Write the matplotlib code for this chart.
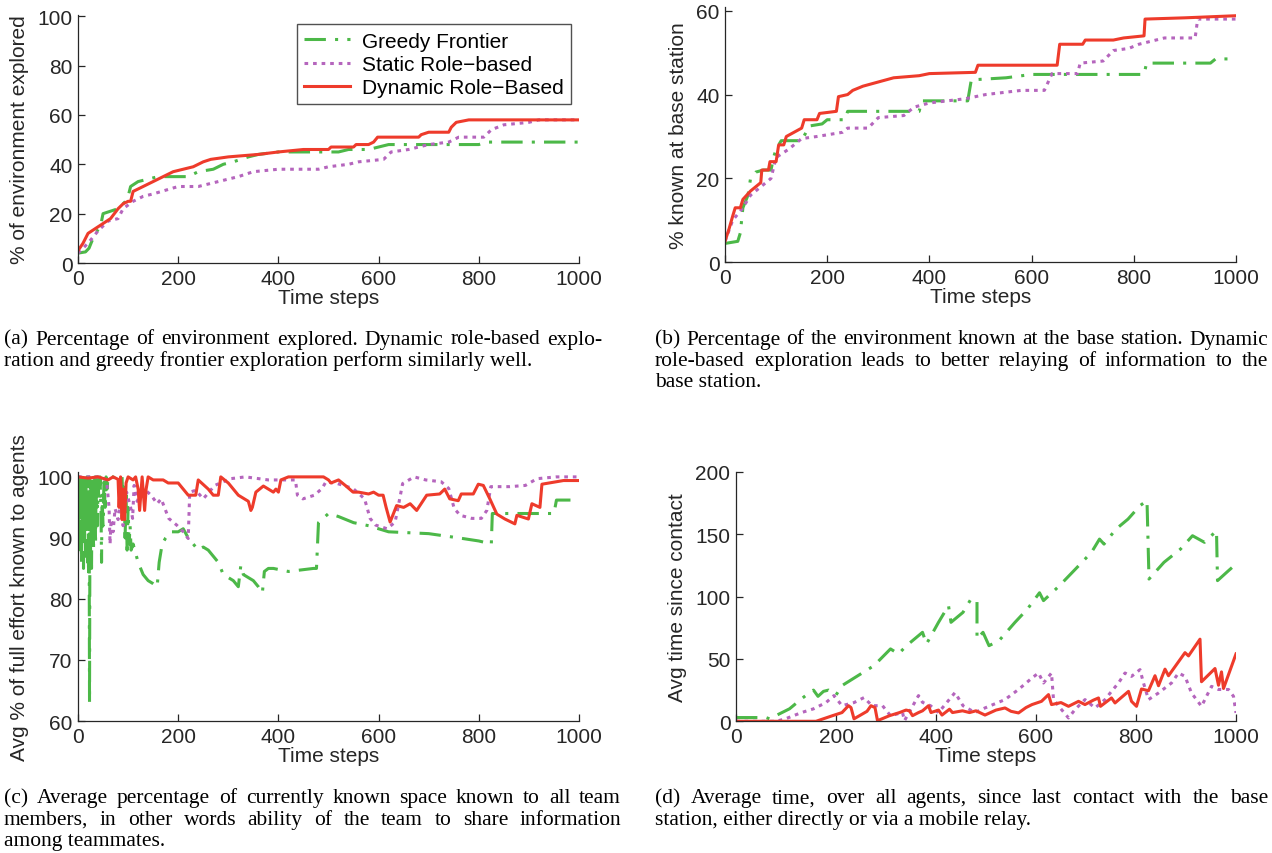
import matplotlib
matplotlib.use('Agg')
import matplotlib.pyplot as plt

plt.rcParams['font.family'] = ['Liberation Sans', 'DejaVu Sans']

W, H = 1272, 854

GREEN = '#4cb848'
PURPLE = '#b565bd'
RED = '#ee3b2b'
INK = '#262626'

# ---- data ----
steps_ticks = [0, 200, 400, 600, 800, 1000]

# (a) % of environment explored
a_x_greedy = [0, 15, 22, 28, 35, 45, 50, 65, 80, 95,
              100, 105, 120, 140, 160, 220, 240, 270, 290, 310,
              340, 360, 400, 520, 540, 580, 600, 620, 800, 815,
              1000]
a_y_greedy = [4, 4.5, 6, 9, 12, 15, 20, 21, 22, 25,
              27, 31, 33, 34, 35, 35, 37, 38, 40, 41,
              43, 44, 45, 45, 46, 46, 47, 48, 48, 49,
              49]
a_x_static = [0, 20, 40, 60, 80, 90, 110, 130, 150, 200,
              240, 280, 320, 350, 400, 480, 500, 540, 560, 610,
              625, 660, 700, 740, 760, 810, 825, 850, 900, 920,
              1000]
a_y_static = [4, 8, 13, 17, 18, 22, 25, 27, 28, 31,
              31, 33, 35, 37, 38, 38, 39, 40, 41, 42,
              45, 46, 48, 49, 51, 51, 54, 56, 57, 58,
              58]
a_x_dynamic = [0, 10, 20, 35, 50, 65, 80, 90, 100, 105,
               110, 130, 150, 170, 190, 210, 230, 250, 265, 300,
               360, 400, 450, 500, 505, 550, 555, 580, 590, 598,
               680, 685, 700, 740, 745, 755, 780, 1000]
a_y_dynamic = [5, 8, 12, 14, 16, 18, 22, 24, 25, 25,
               29, 31, 33, 35, 37, 38, 39, 41, 42, 43,
               44, 45, 46, 46, 47, 47, 48, 48, 49, 51,
               51, 52, 53, 53, 55, 57, 58, 58]

# (b) % known at base station
b_x_greedy = [0, 25, 30, 35, 45, 50, 60, 75, 90, 95,
              100, 110, 150, 165, 190, 200, 235, 240, 380, 385,
              475, 482, 550, 600, 820, 825, 950, 960, 1000]
b_y_greedy = [4.5, 5, 7, 13, 16, 20, 21.5, 22, 22, 25,
              27, 29, 29, 32.5, 33, 34, 34, 36, 36, 38.5,
              38.5, 43.5, 44, 44.8, 44.8, 47.5, 47.5, 48.5, 48.5]
b_x_static = [0, 15, 35, 50, 70, 90, 100, 125, 150, 180,
              230, 240, 280, 300, 350, 370, 400, 470, 510, 580,
              625, 640, 690, 695, 740, 760, 790, 810, 860, 920,
              925, 1000]
b_y_static = [5, 10, 13, 16, 18, 20, 25, 27, 29.5, 30,
              31, 32, 32, 34.5, 35, 37, 38, 39, 40, 41,
              41, 45, 45, 47.5, 48, 50.5, 51, 52, 53.5, 53.5,
              58, 58]
b_x_dynamic = [0, 8, 15, 20, 30, 35, 50, 70, 72, 85,
               88, 100, 105, 115, 120, 135, 150, 155, 180, 185,
               218, 222, 240, 250, 270, 300, 330, 380, 400, 490,
               495, 650, 655, 700, 705, 760, 780, 820, 822, 900,
               1000]
b_y_dynamic = [5, 8, 11, 13, 13, 15, 17, 19, 22, 22,
               24, 24, 28, 28, 30, 31, 32, 34, 34, 35.5,
               36, 39.5, 40, 41, 42, 43, 44, 44.5, 45, 45.3,
               47, 47, 52, 52, 53, 53, 53.5, 54, 58, 58.3,
               58.8]

# (c) Avg % of full effort known to agents
c_x_greedy = [0, 1, 2, 3, 4, 5, 6, 7, 8, 9,
              10, 11, 12, 13, 14, 15, 16, 17, 18, 19,
              20, 21, 22, 23, 24, 25, 26, 27, 28, 29,
              30, 31, 32, 33, 34, 35, 36, 37, 38, 39,
              40, 42, 44, 46, 47, 48, 50, 52, 54, 56,
              58, 60, 70, 80, 88, 90, 92, 94, 96, 98,
              100, 102, 104, 106, 110, 120, 130, 140, 150, 158,
              162, 168, 175, 185, 200, 210, 220, 230, 240, 250,
              260, 270, 280, 290, 300, 310, 320, 325, 330, 340,
              350, 360, 368, 372, 380, 390, 420, 440, 470, 476,
              480, 500, 520, 550, 580, 600, 620, 700, 760, 800,
              825, 827, 950, 955, 1000]
c_y_greedy = [100, 93, 100, 90, 99, 88, 100, 86, 98, 91,
              100, 85, 97, 89, 100, 87, 99, 92, 100, 86,
              98, 84, 100, 63, 99, 88, 100, 85, 97, 91,
              100, 88, 99, 93, 100, 89, 98, 95, 100, 92,
              99, 96, 100, 94, 86, 97, 92, 100, 95, 100,
              98, 100, 100, 99.5, 100, 93, 99, 90, 97, 88,
              95, 89, 92, 88, 89, 86, 84, 83, 82.5, 82,
              86, 89, 90, 91, 91, 91.5, 90, 89, 88, 88.5,
              88, 87, 86, 84, 83.5, 83, 82, 85.5, 84, 83.5,
              83, 82, 81, 84.5, 85, 85, 84.5, 84.7, 85, 85,
              92.5, 94, 93.5, 92.5, 92, 91.5, 91, 90.7, 90, 89.5,
              89, 94, 94, 96.2, 96.2]
c_x_static = [0, 40, 57, 62, 64, 66, 70, 74, 80, 85,
              90, 97, 105, 109, 112, 118, 124, 135, 146, 158,
              166, 181, 197, 210, 220, 223, 235, 250, 273, 304,
              334, 380, 411, 434, 438, 449, 472, 487, 495, 518,
              549, 572, 583, 594, 617, 633, 648, 671, 694, 725,
              740, 751, 763, 786, 805, 816, 824, 862, 893, 916,
              954, 1000]
c_y_static = [100, 100, 99.5, 95, 89, 93, 91, 94.8, 93, 96,
              92, 97.5, 95, 93.2, 98.6, 96, 97, 97.8, 97, 95.6,
              96.4, 93.2, 92.1, 91, 89.9, 97.5, 97.8, 96.4, 98.6, 99.7,
              100, 99.5, 99.5, 99.5, 97, 96.4, 97, 98.1, 99.2, 98.9,
              98.1, 96.4, 93.2, 92.1, 91.5, 92.6, 98.9, 100, 99.5, 99.2,
              98.1, 94.8, 93.7, 93.2, 93.2, 94.5, 98.4, 98.4, 98.6, 99.7,
              100, 100]
c_x_dynamic = [0, 20, 40, 60, 70, 80, 82, 85, 88, 90,
               93, 96, 100, 110, 115, 120, 123, 128, 133, 136,
               140, 150, 170, 180, 200, 210, 220, 235, 240, 260,
               270, 280, 285, 300, 320, 340, 345, 348, 355, 370,
               390, 395, 400, 405, 420, 490, 500, 505, 520, 535,
               549, 560, 580, 590, 600, 609, 615, 623, 636, 650,
               663, 676, 696, 722, 732, 742, 759, 765, 789, 799,
               809, 822, 836, 852, 872, 876, 899, 906, 922, 926,
               969, 1000]
c_y_dynamic = [100, 99.8, 100, 99.5, 100, 99.6, 95, 100, 93, 98,
               93, 99, 100, 99.5, 100, 98, 94.5, 100, 94.5, 98,
               100, 99.5, 99.5, 99, 99, 98, 97, 97, 99.5, 98,
               97, 97, 100, 99, 97, 96, 94.5, 95, 97.5, 98.5,
               97.5, 98, 97.5, 99.5, 100, 100, 99.5, 99, 99.5, 98.5,
               97.5, 97.5, 97.2, 97.5, 97, 97, 95, 92.6, 95.3, 95,
               95.6, 94.5, 97, 97.2, 98, 96.4, 96.1, 97.2, 97.2, 98.8,
               98.6, 96.4, 93.9, 93.1, 92.3, 93.7, 93.1, 95.6, 95, 98.8,
               99.4, 99.4]

# (d) Avg time since contact
d_x_greedy = [0, 60, 67, 87, 107, 131, 147, 155, 164, 175,
              185, 200, 212, 244, 276, 309, 325, 341, 373, 381,
              405, 425, 430, 454, 470, 482, 482, 494, 506, 526,
              558, 583, 607, 615, 647, 679, 711, 727, 736, 760,
              784, 808, 822, 826, 856, 889, 913, 937, 961, 963,
              985, 1000]
d_y_greedy = [3, 3, 2, 6, 10, 18, 23, 25, 20, 24,
              25, 21, 28.6, 36.6, 44.6, 58, 54, 60.6, 71.3, 62,
              79.3, 92.7, 79.3, 87.3, 98, 96.7, 66, 71.3, 60.6, 64.6,
              79.3, 90, 103, 96.7, 108.7, 122, 135.4, 146, 142, 154,
              162, 172.8, 176.8, 114, 127.4, 138, 148.7, 143.4, 152.7, 112.7,
              120.7, 126]
d_x_static = [0, 80, 99, 131, 155, 180, 196, 212, 236, 256,
              272, 293, 309, 333, 337, 365, 373, 389, 405, 438,
              454, 478, 498, 538, 565, 592, 605, 615, 631, 635,
              651, 665, 678, 698, 718, 738, 751, 765, 778, 791,
              808, 815, 825, 845, 871, 885, 898, 911, 931, 951,
              965, 985, 995, 1000]
d_y_static = [0, 0, 2, 7, 10, 15, 20.6, 12.5, 15, 19,
              12.5, 12.5, 4.5, 7, 0.5, 20.6, 15.2, 12.5, 7, 23,
              12.5, 7, 10.7, 17.4, 25.5, 34.7, 38.7, 30.7, 38.7, 17.4,
              9.4, 2.7, 9.4, 17.4, 10.7, 17.4, 24, 30.7, 38.7, 36,
              41.4, 30.7, 17.4, 22.7, 30.7, 38.7, 36, 22.7, 12, 28,
              25.5, 25.5, 20, 6.7]
d_x_dynamic = [0, 160, 193, 212, 225, 230, 236, 247, 262, 270,
               278, 283, 307, 327, 340, 347, 353, 365, 373, 385,
               390, 405, 412, 427, 433, 453, 467, 480, 498, 520,
               538, 550, 565, 580, 592, 611, 625, 631, 650, 665,
               685, 698, 715, 725, 729, 751, 758, 785, 791, 801,
               811, 825, 838, 845, 858, 865, 898, 905, 928, 931,
               958, 965, 971, 975, 1000]
d_y_dynamic = [0, 0, 4.5, 7, 12.5, 11, 2, 4.5, 8, 12.5,
               11, 0.5, 4.5, 7, 9, 8.4, 4.5, 7, 8.4, 12.5,
               7, 9, 5, 9.7, 7, 8.4, 7, 8.4, 5, 9,
               10.7, 8, 6.7, 11, 13.4, 16, 21.4, 13.4, 15, 12,
               16, 13.4, 17, 18.7, 12, 18.7, 14.7, 24, 16, 12,
               25.9, 24.5, 36.5, 28.5, 41.8, 36.5, 55, 52.4, 65.8, 31.7,
               42.3, 28.9, 39.6, 26.3, 54]

labels = ['Greedy Frontier', 'Static Role\u2212based', 'Dynamic Role\u2212Based']

captions = {
    'a': ['(a) Percentage of environment explored. Dynamic role-based explo-',
          'ration and greedy frontier exploration perform similarly well.'],
    'b': ['(b) Percentage of the environment known at the base station. Dynamic',
          'role-based exploration leads to better relaying of information to the',
          'base station.'],
    'c': ['(c) Average percentage of currently known space known to all team',
          'members, in other words ability of the team to share information',
          'among teammates.'],
    'd': ['(d) Average time, over all agents, since last contact with the base',
          'station, either directly or via a mobile relay.'],
}

fig = plt.figure(figsize=(W / 100, H / 100), dpi=100)


def px_axes(x0, x1, ytop, ybot):
    return fig.add_axes([x0 / W, 1 - ybot / H, (x1 - x0) / W, (ybot - ytop) / H])


def draw_series(ax, xg, yg, xs, ys, xd, yd):
    lg, = ax.plot(xg, yg, color=GREEN, lw=2.2, ls=(0, (7, 3, 1, 3)))
    ls_, = ax.plot(xs, ys, color=PURPLE, lw=2.2, ls=(0, (1.2, 1.6)))
    ld, = ax.plot(xd, yd, color=RED, lw=2.2, ls='-')
    return [lg, ls_, ld]


def style(ax, ylim, yticks, ylabel):
    ax.set_xlim(0, 1000)
    ax.set_ylim(*ylim)
    ax.set_xticks(steps_ticks)
    ax.set_yticks(yticks)
    for s in ['top', 'right']:
        ax.spines[s].set_visible(False)
    for s in ['left', 'bottom']:
        ax.spines[s].set_color(INK)
        ax.spines[s].set_linewidth(0.9)
    ax.tick_params(direction='in', length=5, width=0.9, colors=INK,
                   labelsize=15, pad=4)
    ax.set_xlabel('Time steps', fontsize=15, color=INK, labelpad=0)
    ax.set_ylabel(ylabel, fontsize=15, color=INK, labelpad=6)


ax_a = px_axes(78, 579, 16, 264)
handles = draw_series(ax_a, a_x_greedy, a_y_greedy, a_x_static, a_y_static,
                      a_x_dynamic, a_y_dynamic)
style(ax_a, (0, 100.5), [0, 20, 40, 60, 80, 100], '% of environment explored')
leg = ax_a.legend(handles, labels, loc='upper right', bbox_to_anchor=(0.985, 0.962),
                  fontsize=15, frameon=True, fancybox=False, handlelength=2.2,
                  labelspacing=0.2, borderpad=0.35, handletextpad=0.6,
                  borderaxespad=0)
leg.get_frame().set_edgecolor(INK)
leg.get_frame().set_linewidth(1.0)

ax_b = px_axes(725, 1236, 7.5, 263.3)
draw_series(ax_b, b_x_greedy, b_y_greedy, b_x_static, b_y_static,
            b_x_dynamic, b_y_dynamic)
style(ax_b, (0, 61), [0, 20, 40, 60], '% known at base station')

ax_c = px_axes(78, 579, 473, 722)
draw_series(ax_c, c_x_greedy, c_y_greedy, c_x_static, c_y_static,
            c_x_dynamic, c_y_dynamic)
style(ax_c, (60, 100.8), [60, 70, 80, 90, 100], 'Avg % of full effort known to agents')

ax_d = px_axes(736, 1236, 472.7, 722.3)
draw_series(ax_d, d_x_greedy, d_y_greedy, d_x_static, d_y_static,
            d_x_dynamic, d_y_dynamic)
style(ax_d, (0, 200), [0, 50, 100, 150, 200], 'Avg time since contact')

# ---- justified captions under each panel ----
renderer = fig.canvas.get_renderer()
CAP_SIZE = 15.5


def caption(lines, x0, x1, ytop, step=21.2):
    for i, line in enumerate(lines):
        y = 1 - (ytop + i * step) / H
        last = i == len(lines) - 1
        if last:
            fig.text(x0 / W, y, line, family='Liberation Serif', fontsize=CAP_SIZE,
                     va='center', ha='left', color='black')
            continue
        words = line.split(' ')
        texts = [fig.text(0, y, w, family='Liberation Serif', fontsize=CAP_SIZE,
                          va='center', ha='left', color='black') for w in words]
        widths = [t.get_window_extent(renderer).width for t in texts]
        gap = (x1 - x0 - sum(widths)) / (len(words) - 1)
        x = x0
        for t, w in zip(texts, widths):
            t.set_x(x / W)
            x += w + gap


caption(captions['a'], 4, 602, 340)
caption(captions['b'], 655, 1268, 340)
caption(captions['c'], 4, 621, 799)
caption(captions['d'], 655, 1268, 799)

fig.savefig('out.png', dpi=100)
